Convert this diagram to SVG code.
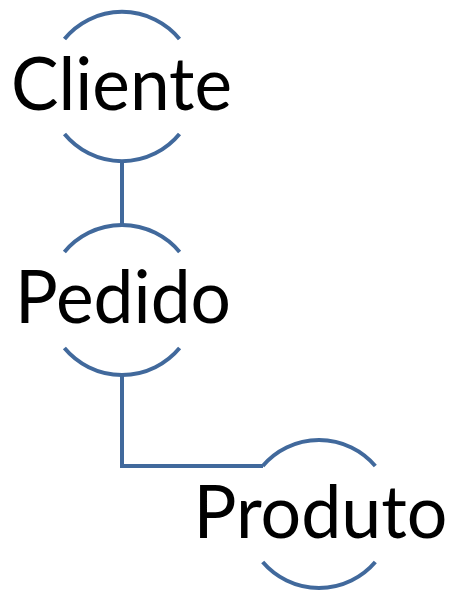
<svg xmlns="http://www.w3.org/2000/svg" width="452" height="593" viewBox="0 0 452 593">
  <style>
    .ring { fill: none; stroke: #41699C; stroke-width: 4; }
    .link { fill: none; stroke: #41699C; stroke-width: 4; }
    .label { font-family: Lato, "Open Sans", "Liberation Sans", sans-serif; font-size: 73px; fill: #000; text-anchor: middle; }
  </style>
  <rect width="452" height="593" fill="#fff"/>

  <g id="connectors">
    <path class="link" d="M122 161 V225"/>
    <path class="link" d="M122 375 V466 H263"/>
  </g>

  <g id="cliente">
    <path class="ring" d="M64.5 39 A74.5 74.5 0 0 1 179.5 39"/>
    <path class="ring" d="M64.5 134 A74.5 74.5 0 0 0 179.5 134"/>
    <text class="label" x="121.5" y="110" textLength="221" lengthAdjust="spacingAndGlyphs">Cliente</text>
  </g>

  <g id="pedido">
    <path class="ring" d="M64.4 252 A75 75 0 0 1 179.6 252"/>
    <path class="ring" d="M64.4 348 A75 75 0 0 0 179.6 348"/>
    <text class="label" x="123" y="323" textLength="216" lengthAdjust="spacingAndGlyphs">Pedido</text>
  </g>

  <g id="produto">
    <path class="ring" d="M262.7 466 A74 74 0 0 1 375.3 466"/>
    <path class="ring" d="M262.7 562 A74 74 0 0 0 375.3 562"/>
    <text class="label" x="320.5" y="538" textLength="254" lengthAdjust="spacingAndGlyphs">Produto</text>
  </g>
</svg>
